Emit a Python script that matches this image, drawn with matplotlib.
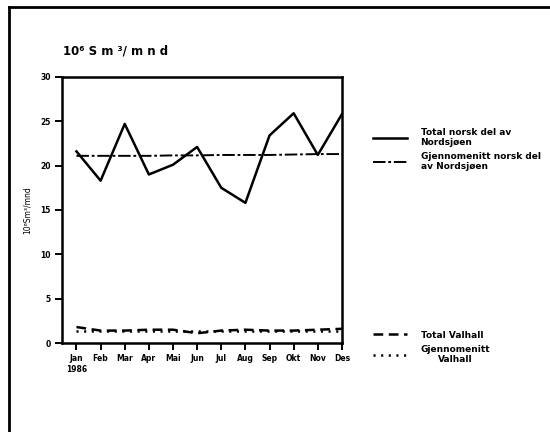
import matplotlib
matplotlib.use('Agg')
import matplotlib.pyplot as plt
from matplotlib.lines import Line2D

plt.rcParams['font.family'] = ['DejaVu Sans']
plt.rcParams['font.weight'] = 'bold'
plt.rcParams['lines.scale_dashes'] = False

months = ['Jan\n1986', 'Feb', 'Mar', 'Apr', 'Mai', 'Jun', 'Jul', 'Aug', 'Sep', 'Okt', 'Nov', 'Des']
total_norsk = [21.6, 18.3, 24.7, 19.0, 20.1, 22.1, 17.5, 15.8, 23.4, 25.9, 21.2, 25.8]
snitt_norsk = [21.1, 21.1, 21.1, 21.1, 21.15, 21.15, 21.2, 21.2, 21.2, 21.25, 21.3, 21.3]
total_valhall = [1.8, 1.4, 1.4, 1.5, 1.5, 1.1, 1.4, 1.5, 1.4, 1.4, 1.5, 1.6]
snitt_valhall = [1.4] * 12

fig = plt.figure(figsize=(5.5, 4.32), dpi=100)
ax = fig.add_axes([0.1127, 0.206, 0.509, 0.616])
x = list(range(12))

l1, = ax.plot(x, total_norsk, color='black', lw=1.8, label='Total norsk del av\nNordsjøen')
l2, = ax.plot(x, snitt_norsk, color='black', lw=1.4, linestyle=(0, (9, 2, 2, 2)),
              label='Gjennomenitt norsk del\nav Nordsjøen')
l3, = ax.plot(x, total_valhall, color='black', lw=1.8, linestyle=(0, (7, 4)), label='Total Valhall')
l4, = ax.plot(x, snitt_valhall, color='black', lw=1.8, linestyle=(0, (1.5, 4)),
              label='Gjennomenitt\nValhall')

ax.set_xlim(-0.6, 11.0)
ax.set_ylim(0, 30)
ax.set_yticks([0, 5, 10, 15, 20, 25, 30])
ax.set_xticks(x)
ax.set_xticklabels(months, linespacing=1.2)
ax.tick_params(axis='both', direction='out', length=5, width=1.4, labelsize=5.5, pad=3)
for s in ax.spines.values():
    s.set_linewidth(1.8)
ax.set_ylabel('10⁶Sm³/mnd', fontsize=5.5, fontweight='normal', labelpad=6)

fig.text(0.115, 0.873, '10⁶ S m ³/ m n d', fontsize=8.5, fontweight='bold')

leg1 = fig.legend(handles=[l1, l2], loc='upper left', bbox_to_anchor=(0.671, 0.712),
                  frameon=False, fontsize=6.5, handlelength=3.8, handletextpad=1.5,
                  labelspacing=0.5, borderaxespad=0)
leg2 = fig.legend(handles=[l3, l4], loc='upper left', bbox_to_anchor=(0.671, 0.243),
                  frameon=False, fontsize=6.5, handlelength=3.8, handletextpad=1.5,
                  labelspacing=0.6, borderaxespad=0)
leg2.get_texts()[1].set_multialignment('center')

# outer frame of the scanned page
fig.add_artist(Line2D([0.0164, 0.0164], [0, 0.984], color='black', lw=2, transform=fig.transFigure))
fig.add_artist(Line2D([0.0164, 1.0], [0.984, 0.984], color='black', lw=2, transform=fig.transFigure))

fig.savefig('out.png', dpi=100)
